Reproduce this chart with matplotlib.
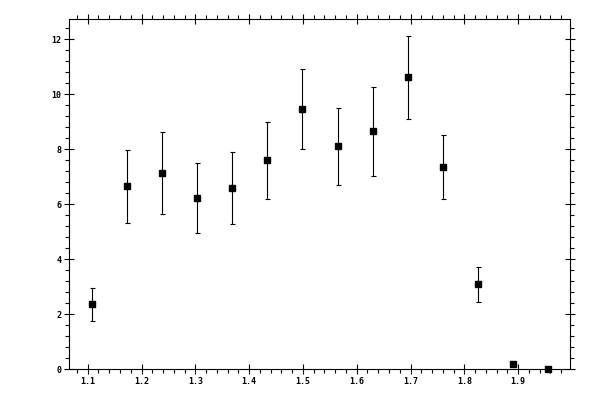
import numpy as np
import matplotlib.pyplot as plt
from matplotlib.ticker import MultipleLocator

outfile = 'out.png'

# data
x = [1.1086, 1.1737, 1.2388, 1.3039, 1.3690, 1.4341, 1.4992,
     1.5643, 1.6294, 1.6945, 1.7596, 1.8247, 1.8898, 1.9549]
y = [2.36, 6.65, 7.13, 6.22, 6.58, 7.60, 9.45,
     8.11, 8.65, 10.62, 7.35, 3.09, 0.18, 0.0]
yerr = [0.60, 1.32, 1.49, 1.27, 1.31, 1.40, 1.45,
        1.40, 1.62, 1.51, 1.17, 0.64, 0.05, 0.0]

fig = plt.figure(figsize=(6, 4), dpi=100, facecolor='w')
ax = fig.add_axes([0.1155, 0.0768, 0.835, 0.8757])

ax.errorbar(x, y, yerr=yerr, fmt='s', color='k', ms=5, elinewidth=0.8,
            capsize=1.8, capthick=0.8, clip_on=False)

ax.set_xlim(1.0658, 1.997)
ax.set_ylim(0, 12.73)

ax.xaxis.set_major_locator(MultipleLocator(0.1))
ax.xaxis.set_minor_locator(MultipleLocator(0.02))
ax.yaxis.set_major_locator(MultipleLocator(2))
ax.yaxis.set_minor_locator(MultipleLocator(0.4))

ax.tick_params(which='major', direction='inout', length=6.5, width=0.8,
               top=True, right=True, labelsize=6, pad=2.5)
ax.tick_params(which='minor', direction='out', length=3, width=0.8,
               top=True, right=True)
ax.xaxis.set_major_formatter(plt.FuncFormatter(lambda v, p: '%g' % round(v, 2)))
ax.yaxis.set_major_formatter(plt.FuncFormatter(lambda v, p: '%d' % round(v)))
for lab in ax.get_xticklabels() + ax.get_yticklabels():
    lab.set_family('DejaVu Sans Mono')
    lab.set_weight('bold')
for s in ax.spines.values():
    s.set_linewidth(0.8)

plt.savefig(outfile)
